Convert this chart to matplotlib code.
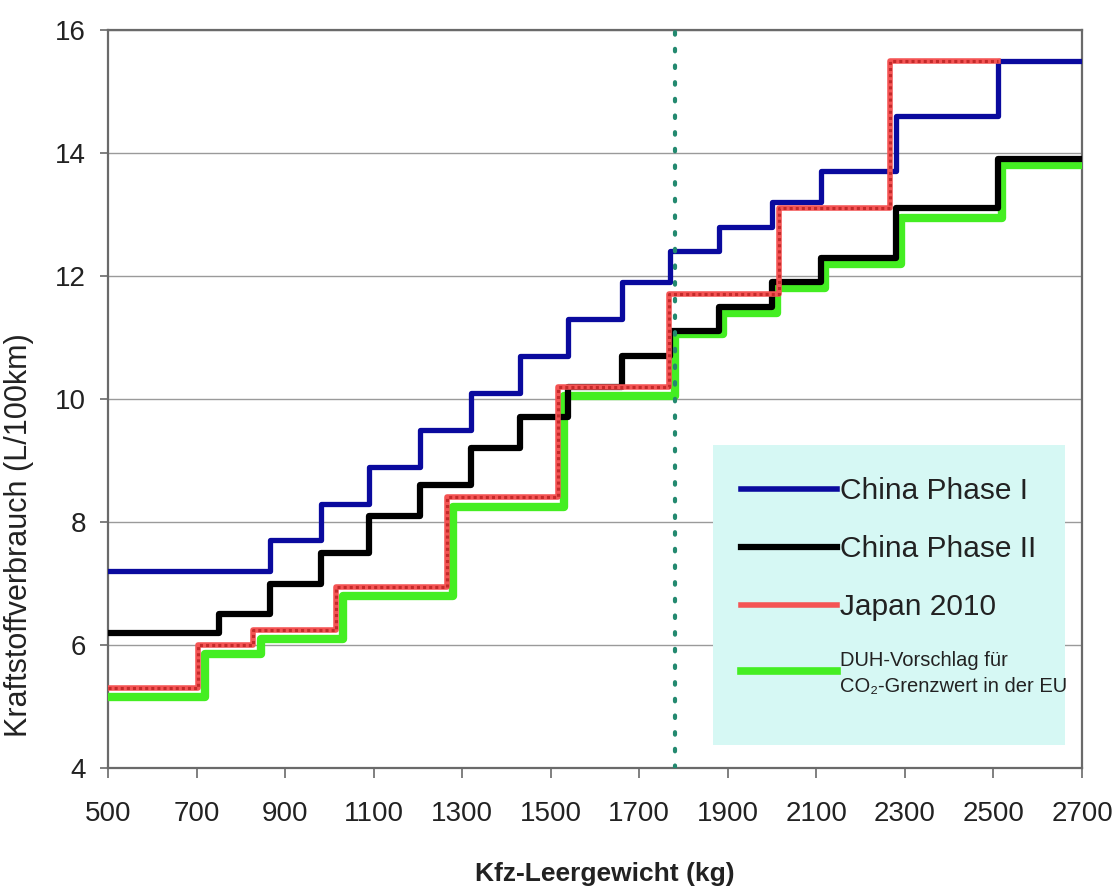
# -*- coding: utf-8 -*-
'''
Fuel consumption limits vs. vehicle kerb weight - step curves
'''
import matplotlib
matplotlib.use('Agg')
import matplotlib.pyplot as plt
from matplotlib.lines import Line2D
from matplotlib.patches import Rectangle

plt.rcParams['font.family'] = ['Liberation Sans', 'DejaVu Sans']

################################################################################
# Data (weight class edges in kg, limit in L/100km for each class)
################################################################################
china1_edges = [500, 865, 980, 1090, 1205, 1320, 1430, 1540, 1660, 1770, 1880,
                2000, 2110, 2280, 2510, 2700]
china1_vals = [7.2, 7.7, 8.3, 8.9, 9.5, 10.1, 10.7, 11.3, 11.9, 12.4, 12.8,
               13.2, 13.7, 14.6, 15.5]

china2_edges = [500, 750, 865, 980, 1090, 1205, 1320, 1430, 1540, 1660, 1770,
                1880, 2000, 2110, 2280, 2510, 2700]
china2_vals = [6.2, 6.5, 7.0, 7.5, 8.1, 8.6, 9.2, 9.7, 10.2, 10.7, 11.1,
               11.5, 11.9, 12.3, 13.1, 13.9]

japan_edges = [500, 703, 828, 1016, 1266, 1516, 1766, 2016, 2266, 2510]
japan_vals = [5.3, 6.0, 6.25, 6.95, 8.4, 10.2, 11.7, 13.1, 15.5]

duh_edges = [500, 720, 845, 1030, 1280, 1530, 1780, 1890, 2010, 2120, 2290,
             2520, 2700]
duh_vals = [5.15, 5.85, 6.1, 6.8, 8.25, 10.05, 11.05, 11.4, 11.8, 12.2,
            12.95, 13.8]

ref_weight = 1780    # dotted marker line

labels = ['China Phase I', 'China Phase II', 'Japan 2010',
          'DUH-Vorschlag für\nCO\u2082-Grenzwert in der EU']

xticks = list(range(500, 2701, 200))
yticks = list(range(4, 17, 2))


def steps(edges, vals):
    '''close the step curve at the last edge'''
    return edges, list(vals) + [vals[-1]]


################################################################################
# Plot
################################################################################
fig = plt.figure(figsize=(11.17, 8.94), dpi=100)
ax = fig.add_axes([0.0967, 0.1409, 0.872, 0.8255])

c_text = '#222222'
c_blue = '#0a0a9e'
c_black = '#000000'
c_red = '#f45454'
c_red_dot = '#c42a2a'
c_green = '#44ee22'

x, y = steps(duh_edges, duh_vals)
ax.step(x, y, where='post', color=c_green, lw=6, zorder=3)
x, y = steps(china2_edges, china2_vals)
ax.step(x, y, where='post', color=c_black, lw=4.5, zorder=4)
x, y = steps(china1_edges, china1_vals)
ax.step(x, y, where='post', color=c_blue, lw=3.8, zorder=5)
x, y = steps(japan_edges, japan_vals)
ax.step(x, y, where='post', color=c_red, lw=4, zorder=6)
ax.step(x, y, where='post', color=c_red_dot, lw=2.2, ls=(0, (1, 1)), zorder=6)

ax.axvline(ref_weight, color='#23896f', lw=3, ls=(0, (0.6, 3.4)),
           dash_capstyle='round', zorder=7)

ax.set_xlim(500, 2700)
ax.set_ylim(4, 16)
ax.set_xticks(xticks)
ax.set_yticks(yticks)
ax.yaxis.grid(True, color='#9a9a9a', lw=1)
ax.set_axisbelow(True)

for s in ax.spines.values():
    s.set_color('#6a6a6a')
    s.set_linewidth(1.6)
ax.tick_params(axis='both', colors='#6a6a6a', labelcolor=c_text,
               labelsize=20, direction='out', width=1.2)
ax.tick_params(axis='x', length=7, pad=17)
ax.tick_params(axis='y', length=6, pad=10)

ax.set_xlabel('Kfz-Leergewicht (kg)', fontsize=19, fontweight='bold',
              color=c_text)
ax.xaxis.set_label_coords(0.510, -0.128)
ax.set_ylabel('Kraftstoffverbrauch (L/100km)', fontsize=22, color=c_text)
ax.yaxis.set_label_coords(-0.076, 0.316)

# legend box
ax.add_patch(Rectangle((0.621, 0.031), 0.362, 0.407, transform=ax.transAxes,
                       facecolor='#d6f8f4', edgecolor='none', zorder=2))
handles = [Line2D([], [], color=c_blue, lw=4),
           Line2D([], [], color=c_black, lw=4.5),
           Line2D([], [], color=c_red, lw=4),
           Line2D([], [], color=c_green, lw=5.5)]
leg = ax.legend(handles, labels, loc='upper left',
                bbox_to_anchor=(0.638, 0.41), frameon=False,
                handlelength=3.2, handletextpad=0.1, labelspacing=1.0,
                fontsize=21.5, borderaxespad=0)
for t in leg.get_texts():
    t.set_color(c_text)
leg.get_texts()[3].set_fontsize(14.5)
leg.get_texts()[3].set_linespacing(1.5)
leg.set_zorder(8)

fig.savefig('out.png', dpi=100)
plt.close(fig)
